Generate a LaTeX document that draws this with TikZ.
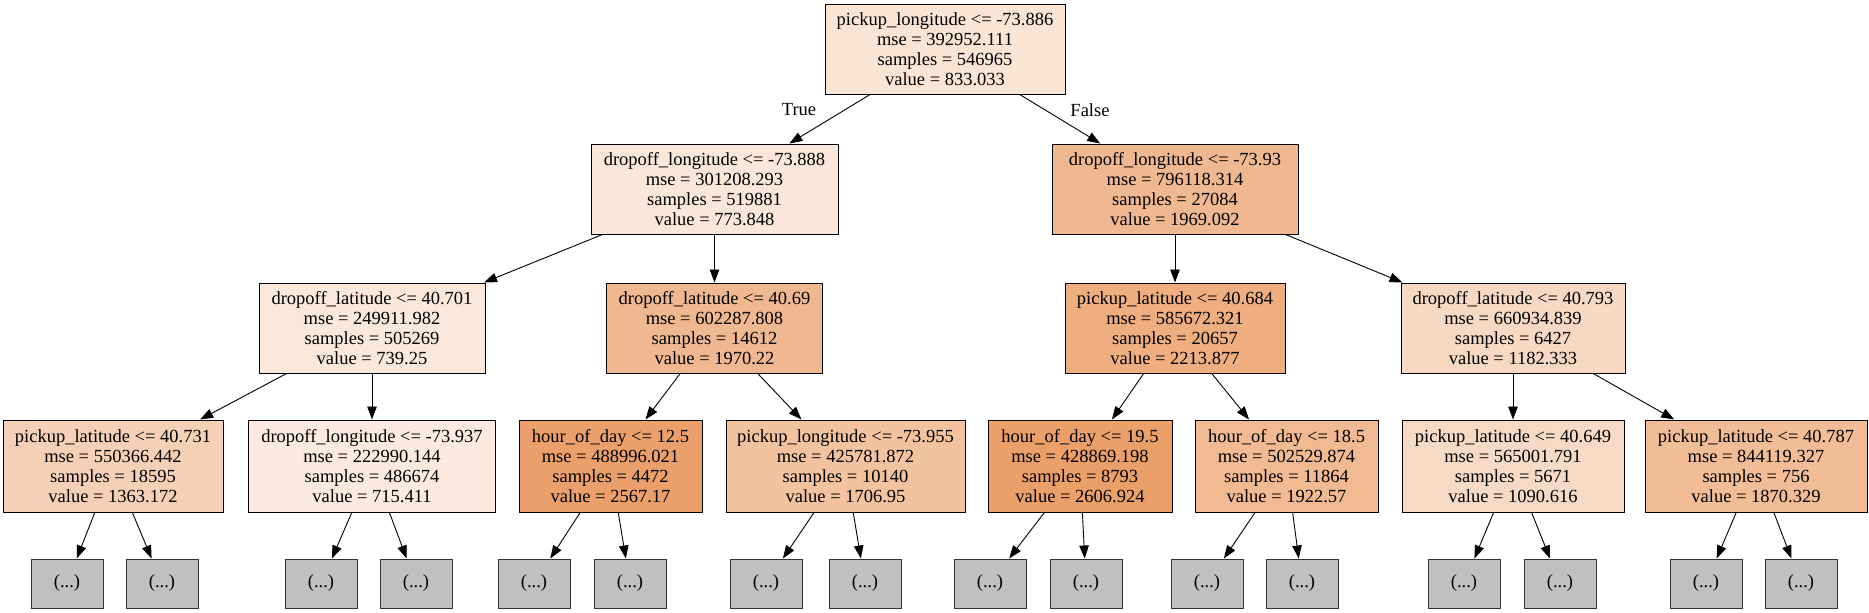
\documentclass[tikz,border=0pt]{standalone}
\usepackage{fontspec}
\setmainfont{Liberation Serif}
\usetikzlibrary{arrows.meta}
\definecolor{treeorange}{RGB}{229,129,57}
\definecolor{leafgray}{RGB}{192,192,192}

\begin{document}
\begin{tikzpicture}[x=1pt,y=-1pt,->,>={Triangle[length=13pt,width=9.5pt]},
                    line width=0.9pt]
  \tikzstyle{split}=[rectangle,draw=black,line width=1pt,align=center,inner sep=0pt,
                     minimum height=90pt,font=\fontsize{18.5}{20}\selectfont]
  \tikzstyle{leaf}=[rectangle,draw=black!80,line width=1pt,fill=leafgray,inner sep=0pt,
                    minimum width=72pt,minimum height=49pt,font=\fontsize{18.5}{20}\selectfont]
  \tikzstyle{branch}=[font=\fontsize{18.5}{20}\selectfont]
  \useasboundingbox (0,0) rectangle (1869,613);

  % level 0 and 1
  \node[split,fill=treeorange!21!white,minimum width=240pt] (root) at (945,49)
    {pickup\_longitude <= -73.886\\mse = 392952.111\\samples = 546965\\value = 833.033};
  \node[split,fill=treeorange!19!white,minimum width=247pt] (n1) at (714.5,189)
    {dropoff\_longitude <= -73.888\\mse = 301208.293\\samples = 519881\\value = 773.848};
  \node[split,fill=treeorange!56!white,minimum width=246pt] (n2) at (1175,189)
    {dropoff\_longitude <= -73.93\\mse = 796118.314\\samples = 27084\\value = 1969.092};

  % level 2
  \node[split,fill=treeorange!18!white,minimum width=226pt] (n3) at (372,328)
    {dropoff\_latitude <= 40.701\\mse = 249911.982\\samples = 505269\\value = 739.25};
  \node[split,fill=treeorange!56!white,minimum width=216pt] (n4) at (714.5,328)
    {dropoff\_latitude <= 40.69\\mse = 602287.808\\samples = 14612\\value = 1970.22};
  \node[split,fill=treeorange!64!white,minimum width=220pt] (n5) at (1175,328)
    {pickup\_latitude <= 40.684\\mse = 585672.321\\samples = 20657\\value = 2213.877};
  \node[split,fill=treeorange!31!white,minimum width=224pt] (n6) at (1513,328)
    {dropoff\_latitude <= 40.793\\mse = 660934.839\\samples = 6427\\value = 1182.333};

  % level 3
  \node[split,fill=treeorange!37!white,minimum width=220pt,minimum height=92pt] (n7) at (113,466)
    {pickup\_latitude <= 40.731\\mse = 550366.442\\samples = 18595\\value = 1363.172};
  \node[split,fill=treeorange!17!white,minimum width=247pt,minimum height=92pt] (n8) at (372,466)
    {dropoff\_longitude <= -73.937\\mse = 222990.144\\samples = 486674\\value = 715.411};
  \node[split,fill=treeorange!75!white,minimum width=183pt,minimum height=92pt] (n9) at (610.5,466)
    {hour\_of\_day <= 12.5\\mse = 488996.021\\samples = 4472\\value = 2567.17};
  \node[split,fill=treeorange!48!white,minimum width=239pt,minimum height=92pt] (n10) at (845.5,466)
    {pickup\_longitude <= -73.955\\mse = 425781.872\\samples = 10140\\value = 1706.95};
  \node[split,fill=treeorange!76!white,minimum width=184pt,minimum height=92pt] (n11) at (1080,466)
    {hour\_of\_day <= 19.5\\mse = 428869.198\\samples = 8793\\value = 2606.924};
  \node[split,fill=treeorange!55!white,minimum width=183pt,minimum height=92pt] (n12) at (1286.5,466)
    {hour\_of\_day <= 18.5\\mse = 502529.874\\samples = 11864\\value = 1922.57};
  \node[split,fill=treeorange!29!white,minimum width=222pt,minimum height=92pt] (n13) at (1513,466)
    {pickup\_latitude <= 40.649\\mse = 565001.791\\samples = 5671\\value = 1090.616};
  \node[split,fill=treeorange!53!white,minimum width=222pt,minimum height=92pt] (n14) at (1756,466)
    {pickup\_latitude <= 40.787\\mse = 844119.327\\samples = 756\\value = 1870.329};

  % truncated subtrees
  \foreach \x [count=\i] in {67,162,321,416,534,630,766,865,990,1086,1207,1302,1464,1560,1706,1801}
    \node[leaf] (l\i) at (\x,583.5) {(...)};

  \node[branch] (lblTrue)  at (799,110)  {True};
  \node[branch] (lblFalse) at (1090,110) {False};

  \path
(root) edge (n1)
(root) edge (n2)
(n1) edge (n3)
(n1) edge (n4)
(n2) edge (n5)
(n2) edge (n6)
(n3) edge (n7)
(n3) edge (n8)
(n4) edge (n9)
(n4) edge (n10)
(n5) edge (n11)
(n5) edge (n12)
(n6) edge (n13)
(n6) edge (n14)
(n7) edge (l1)   (n7) edge (l2)
(n8) edge (l3)   (n8) edge (l4)
(n9) edge (l5)   (n9) edge (l6)
(n10) edge (l7)  (n10) edge (l8)
(n11) edge (l9)  (n11) edge (l10)
(n12) edge (l11) (n12) edge (l12)
(n13) edge (l13) (n13) edge (l14)
(n14) edge (l15) (n14) edge (l16)
;

\end{tikzpicture}
\end{document}
